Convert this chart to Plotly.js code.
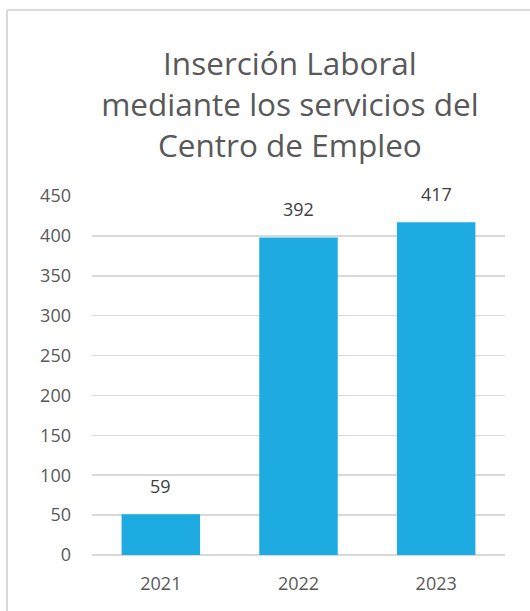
<!DOCTYPE html>
<html>
<head>
<meta charset="utf-8">
<script src="https://cdn.plot.ly/plotly-3.0.1.min.js"></script>
<style>
html,body{margin:0;padding:0;background:#fff;}
#chart{width:530px;height:611px;}
</style>
</head>
<body>
<div id="chart"></div>
<script>
const categories = ["2021", "2022", "2023"];
const barValues = [51, 398, 417];
const dataLabels = ["59", "392", "417"];
const yTickValues = [0, 50, 100, 150, 200, 250, 300, 350, 400, 450];
const titleText = "Inserción Laboral<br>mediante los servicios del<br>Centro de Empleo";

const FONT = "Open Sans, Noto Sans, sans-serif";
const TXT = "#595959";
const GRID = "#d9d9d9";

const trace = {
  type: "bar",
  x: categories,
  y: barValues,
  marker: {color: "#1DABE1", line: {width: 0}},
  hoverinfo: "skip"
};

const annotations = categories.map((c, i) => ({
  x: i, y: barValues[i], xref: "x", yref: "y",
  text: dataLabels[i], showarrow: false,
  yanchor: "bottom", yshift: 14,
  font: {family: FONT, size: 18, color: "#404040"}
}));

const layout = {
  width: 530, height: 611,
  margin: {l: 92, r: 25, t: 196, b: 56},
  paper_bgcolor: "#fff", plot_bgcolor: "#fff",
  showlegend: false,
  bargap: 0.43,
  title: {
    text: titleText,
    x: 0.547, xref: "container", xanchor: "center",
    y: 0.877, yref: "container", yanchor: "top",
    font: {family: FONT, size: 31.5, color: TXT}
  },
  xaxis: {
    type: "category",
    range: [-0.5, 2.5],
    showgrid: false, zeroline: false, showline: false,
    ticks: "", ticklabelstandoff: 16,
    tickfont: {family: FONT, size: 18, color: TXT}
  },
  yaxis: {
    range: [0, 450],
    tickvals: yTickValues,
    showgrid: true, gridcolor: GRID, gridwidth: 1.5,
    zeroline: true, zerolinecolor: GRID, zerolinewidth: 1.5,
    showline: false, ticks: "", ticklabelstandoff: 20,
    tickfont: {family: FONT, size: 18, color: TXT}
  },
  annotations: annotations,
  shapes: [
    {type: "line", xref: "paper", yref: "paper", layer: "below",
     x0: (7 - 92) / 413, x1: (530 - 92) / 413, y0: (555 - 10) / 359, y1: (555 - 10) / 359,
     line: {color: GRID, width: 2}},
    {type: "line", xref: "paper", yref: "paper", layer: "below",
     x0: (7 - 92) / 413, x1: (7 - 92) / 413, y0: (555 - 10) / 359, y1: (555 - 611) / 359,
     line: {color: GRID, width: 2}}
  ]
};

Plotly.newPlot("chart", [trace], layout, {displayModeBar: false, staticPlot: true});
</script>
</body>
</html>
